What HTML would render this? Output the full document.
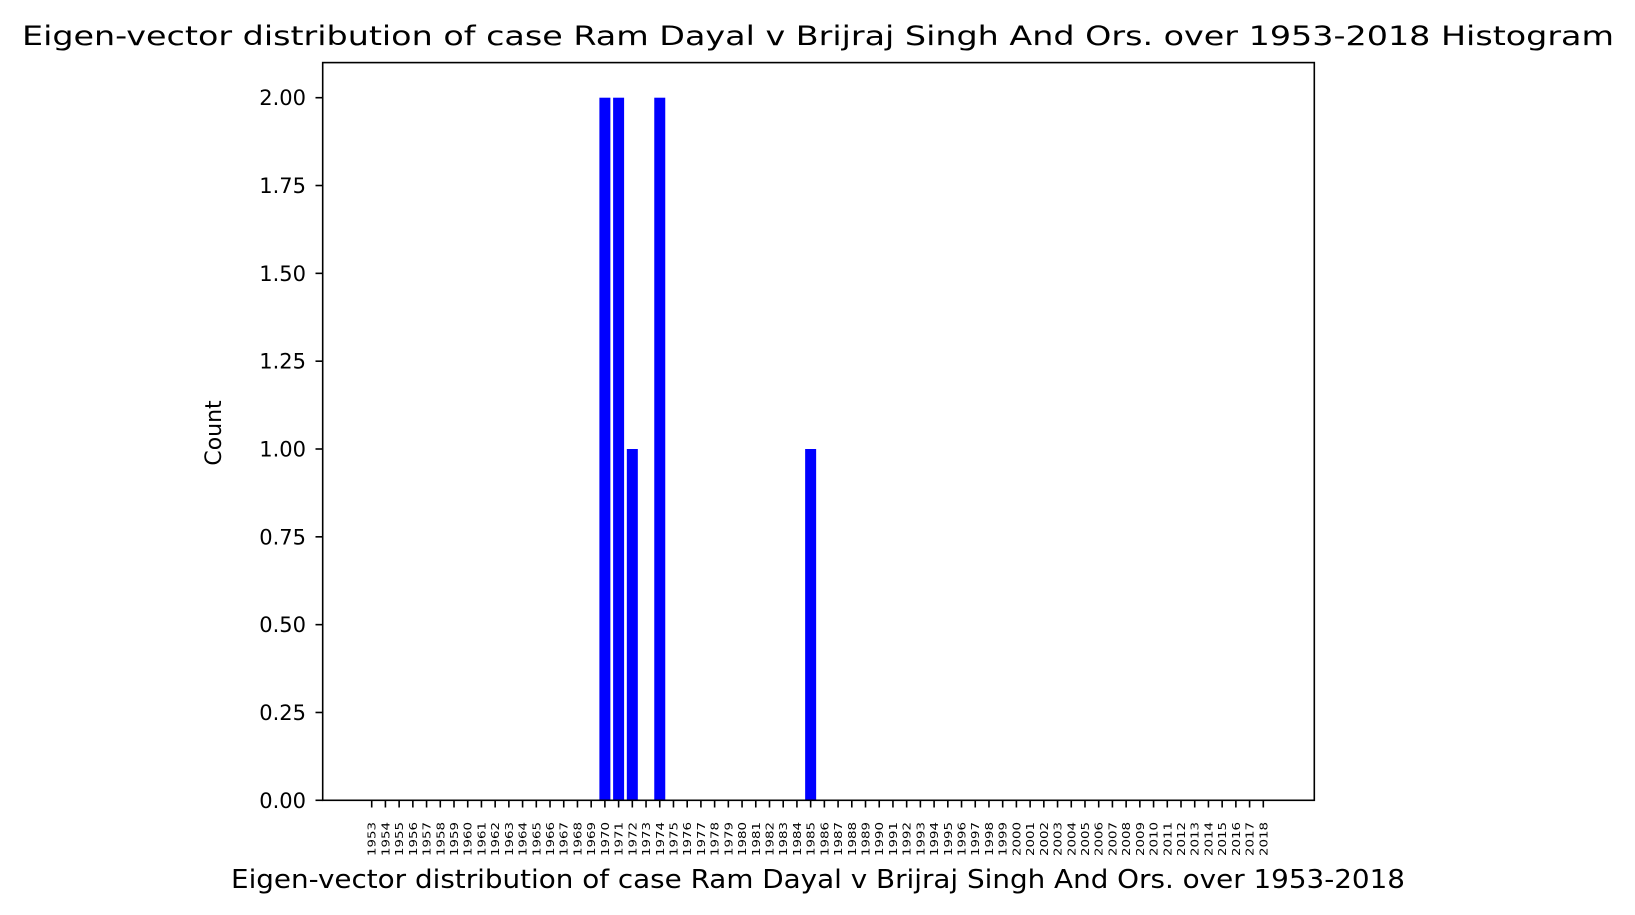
<!DOCTYPE html>
<html><head><meta charset="utf-8"><style>
html,body{margin:0;padding:0;background:#fff;}
svg{display:block;font-family:"DejaVu Sans","Liberation Sans",sans-serif;}
</style></head><body>
<svg id="chart" width="1635" height="915" viewBox="0 0 1635 915">
<text x="818" y="45" text-anchor="middle" font-size="27" textLength="1592" lengthAdjust="spacingAndGlyphs">Eigen-vector distribution of case Ram Dayal v Brijraj Singh And Ors. over 1953-2018 Histogram</text>
<g id="bars"></g>
<g id="xaxis"></g>
<g id="yaxis"></g>
<rect x="322.7" y="62.6" width="991.6" height="737.7" fill="none" stroke="#000" stroke-width="1.6"/>
<text x="818" y="888" text-anchor="middle" font-size="25.5" textLength="1174" lengthAdjust="spacingAndGlyphs">Eigen-vector distribution of case Ram Dayal v Brijraj Singh And Ors. over 1953-2018</text>
<text transform="translate(221,433) rotate(-90)" text-anchor="middle" font-size="22">Count</text>
</svg>
<script>
const years = [];
for (let y = 1953; y <= 2018; y++) years.push(y);
const barYears = [1970, 1971, 1972, 1974, 1985];
const barCounts = [2, 2, 1, 2, 1];
const yTicks = [0, 0.25, 0.5, 0.75, 1.0, 1.25, 1.5, 1.75, 2.0];
const yTickLabels = ["0.00","0.25","0.50","0.75","1.00","1.25","1.50","1.75","2.00"];

const NS = "http://www.w3.org/2000/svg";
const x = v => 371.7 + (v - 1953) * 13.717;
const y = v => 800.3 - v * 351.3;
const bw = 11;

const gb = document.getElementById('bars');
barYears.forEach((yr, i) => {
  const r = document.createElementNS(NS, 'rect');
  r.setAttribute('x', x(yr) - bw / 2);
  r.setAttribute('y', y(barCounts[i]));
  r.setAttribute('width', bw);
  r.setAttribute('height', y(0) - y(barCounts[i]));
  r.setAttribute('fill', '#0000ff');
  
  
  gb.appendChild(r);
});

const gx = document.getElementById('xaxis');
years.forEach(yr => {
  const l = document.createElementNS(NS, 'line');
  l.setAttribute('x1', x(yr)); l.setAttribute('x2', x(yr));
  l.setAttribute('y1', 800.3); l.setAttribute('y2', 807.5);
  l.setAttribute('stroke', '#000'); l.setAttribute('stroke-width', '1.6');
  
  
  gx.appendChild(l);
  const t = document.createElementNS(NS, 'text');
  t.setAttribute('transform', 'translate(' + (x(yr) + 4) + ',822) rotate(-90)');
  t.setAttribute('text-anchor', 'end');
  t.setAttribute('font-size', '10.5');
  t.setAttribute('textLength', '34');
  t.setAttribute('lengthAdjust', 'spacingAndGlyphs');
  t.textContent = yr;
  
  
  gx.appendChild(t);
});

const gy = document.getElementById('yaxis');
yTicks.forEach((v, i) => {
  const l = document.createElementNS(NS, 'line');
  l.setAttribute('x1', 315.5); l.setAttribute('x2', 322.7);
  l.setAttribute('y1', y(v)); l.setAttribute('y2', y(v));
  l.setAttribute('stroke', '#000'); l.setAttribute('stroke-width', '1.6');
  
  
  gy.appendChild(l);
  const t = document.createElementNS(NS, 'text');
  t.setAttribute('x', 306); t.setAttribute('y', y(v) + 7.5);
  t.setAttribute('text-anchor', 'end');
  t.setAttribute('font-size', '21');
  t.textContent = yTickLabels[i];
  
  
  gy.appendChild(t);
});
</script>
</body></html>
